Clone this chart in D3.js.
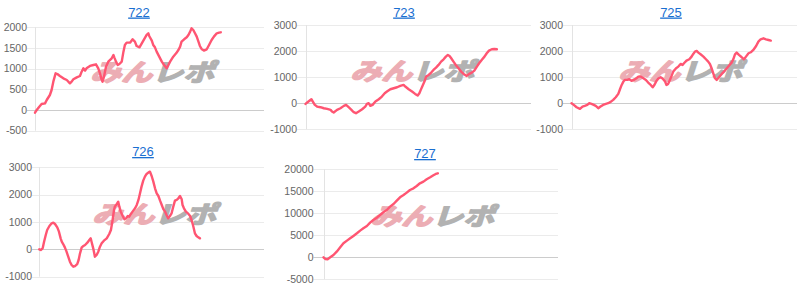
<!DOCTYPE html>
<html>
<head>
<meta charset="utf-8">
<script src="https://cdn.jsdelivr.net/npm/d3@7"></script>
<style>
	body { margin: 0; background: #fff; }
	svg { display: block; font-family: Arial, "Liberation Sans", sans-serif; }
</style>
</head>
<body>
<div id="visContainer"></div>
<script>
'use strict';

// game count (x) and coin difference (y)
var games722 = [0, 60, 150, 230, 350, 410, 520, 580, 640, 720, 780, 870, 990, 1110, 1220, 1280, 1340, 1460, 1570, 1630,
	1690, 1750, 1800, 1920, 2040, 2130, 2210, 2270, 2330, 2360, 2410, 2480, 2560, 2680, 2740, 2770, 2830, 2890, 2950, 3030,
	3090, 3140, 3200, 3320, 3410, 3490, 3550, 3650, 3730, 3810, 3900, 3960, 3990, 4080, 4130, 4190, 4250, 4340, 4430, 4510,
	4600, 4660, 4720, 4830, 4930, 5010, 5070, 5120, 5210, 5300, 5360, 5420, 5470, 5530, 5590, 5650, 5710, 5760, 5820, 5900,
	6000, 6080, 6170, 6250, 6350, 6430, 6490];
var diff722 = [-65, 0, 81, 145, 161, 242, 363, 484, 686, 887, 871, 823, 766, 726, 645, 686, 742, 790, 823, 927,
	1008, 952, 1008, 1065, 1089, 1105, 1008, 887, 726, 686, 806, 1048, 1169, 1250, 1331, 1274, 1169, 1089, 1113, 1169,
	1411, 1573, 1629, 1629, 1710, 1653, 1548, 1516, 1613, 1710, 1815, 1855, 1790, 1677, 1573, 1516, 1411, 1290, 1169, 1089,
	1008, 1089, 1169, 1290, 1371, 1452, 1532, 1653, 1710, 1758, 1815, 1895, 1976, 1935, 1855, 1774, 1653, 1548, 1476, 1436,
	1468, 1573, 1694, 1774, 1855, 1871, 1879];

var games723 = [0, 60, 150, 210, 260, 330, 410, 530, 650, 770, 890, 940, 1000, 1120, 1240, 1360, 1440, 1530, 1630, 1710,
	1790, 1890, 2010, 2120, 2180, 2240, 2300, 2380, 2480, 2600, 2710, 2810, 2890, 3010, 3130, 3250, 3360, 3480, 3540, 3660,
	3780, 3890, 3980, 4040, 4090, 4150, 4220, 4280, 4370, 4460, 4540, 4630, 4720, 4810, 4900, 4980, 5050, 5110, 5170, 5250,
	5330, 5430, 5520, 5610, 5720, 5810, 5900, 5990, 6080, 6160, 6250, 6350, 6430, 6510, 6610, 6700, 6790];
var diff723 = [-26, 26, 102, 153, 64, -64, -128, -153, -192, -217, -255, -319, -358, -255, -192, -102, -64, -153, -255, -345,
	-383, -319, -230, -128, -26, 0, -102, -64, 64, 153, 255, 383, 447, 536, 575, 613, 664, 702, 639, 536,
	447, 358, 294, 383, 511, 664, 830, 1022, 1085, 1175, 1277, 1366, 1469, 1596, 1686, 1788, 1852, 1813, 1724, 1596,
	1469, 1341, 1213, 1124, 1047, 1124, 1175, 1251, 1405, 1532, 1660, 1788, 1916, 2018, 2069, 2082, 2069];

var games725 = [0, 80, 180, 300, 390, 470, 560, 630, 710, 790, 860, 950, 1030, 1120, 1220, 1300, 1390, 1480, 1570, 1660,
	1720, 1780, 1840, 1890, 1980, 2050, 2130, 2210, 2290, 2370, 2450, 2550, 2640, 2720, 2810, 2880, 2940, 3000, 3080, 3160,
	3230, 3320, 3370, 3430, 3490, 3550, 3610, 3710, 3790, 3870, 3940, 3990, 4080, 4180, 4260, 4320, 4380, 4440, 4500, 4580,
	4680, 4770, 4850, 4910, 4970, 5030, 5090, 5150, 5230, 5330, 5410, 5510, 5600, 5680, 5740, 5800, 5860, 5940, 6040, 6120,
	6190, 6280, 6360, 6450, 6550, 6630, 6710, 6810, 6900, 6990, 7070];
var diff725 = [0, -64, -153, -217, -128, -102, -64, 0, -26, -64, -102, -192, -128, -64, -26, 0, 51, 128, 230, 358,
	536, 702, 830, 894, 894, 919, 856, 894, 945, 1022, 1022, 958, 894, 792, 702, 613, 702, 830, 945, 996,
	945, 830, 702, 741, 894, 1047, 1213, 1341, 1405, 1507, 1469, 1532, 1635, 1686, 1788, 1890, 1979, 2005, 1941, 1877,
	1788, 1686, 1596, 1507, 1341, 1149, 958, 894, 996, 1124, 1213, 1341, 1456, 1558, 1686, 1877, 1941, 1852, 1762, 1686,
	1788, 1916, 1954, 2043, 2196, 2362, 2452, 2490, 2452, 2426, 2401];

var games726 = [0, 50, 120, 170, 230, 280, 360, 440, 500, 560, 640, 700, 760, 800, 850, 910, 970, 1030, 1090, 1150,
	1210, 1270, 1350, 1400, 1450, 1510, 1570, 1630, 1710, 1780, 1830, 1860, 1920, 1980, 2040, 2100, 2160, 2220, 2300, 2400,
	2490, 2550, 2610, 2660, 2690, 2750, 2810, 2850, 2900, 2970, 3030, 3090, 3150, 3200, 3260, 3320, 3410, 3470, 3530, 3580,
	3640, 3700, 3760, 3820, 3880, 3940, 4000, 4060, 4120, 4180, 4240, 4300, 4360, 4420, 4480, 4530, 4590, 4650, 4710, 4770,
	4830, 4890, 4950, 5010, 5070, 5100, 5150, 5220, 5310, 5370, 5420, 5480, 5540, 5600, 5660, 5720];
var diff726 = [0, -24, 37, 280, 524, 707, 854, 951, 976, 927, 805, 646, 402, 280, 195, 73, -85, -268, -451, -573,
	-634, -610, -537, -390, -146, 73, 122, 159, 244, 341, 402, 280, 37, -268, -207, -85, 98, 220, 317, 402,
	561, 707, 1073, 1439, 1561, 1646, 1744, 1561, 1378, 1220, 1098, 1134, 1220, 1195, 1293, 1378, 1500, 1622, 1805, 2024,
	2293, 2512, 2659, 2756, 2805, 2841, 2683, 2476, 2232, 2049, 1951, 1780, 1622, 1463, 1378, 1256, 1134, 1220, 1317, 1561,
	1780, 1805, 1866, 1951, 1829, 1622, 1500, 1378, 1293, 1220, 1073, 854, 585, 488, 439, 402];

var games727 = [0, 60, 140, 230, 340, 450, 570, 680, 800, 910, 1020, 1140, 1250, 1360, 1480, 1590, 1700, 1820, 1930, 2040,
	2160, 2270, 2390, 2500, 2610, 2730, 2840, 2950, 3070, 3180, 3290, 3410, 3520, 3640, 3750, 3830, 3900];
var diff727 = [0, -379, -455, 0, 530, 1288, 2273, 3182, 3788, 4318, 4849, 5455, 6061, 6591, 7121, 7879, 8485, 9015, 9622, 10228,
	10758, 11515, 12122, 12879, 13637, 14167, 14697, 15304, 15682, 16213, 16819, 17198, 17728, 18182, 18637, 18940, 19092];

// y axis tick labels
var ticks722 = [-500, 0, 500, 1000, 1500, 2000];
var ticks723 = [-1000, 0, 1000, 2000, 3000];
var ticks725 = [-1000, 0, 1000, 2000, 3000];
var ticks726 = [-1000, 0, 1000, 2000, 3000];
var ticks727 = [-5000, 0, 5000, 10000, 15000, 20000];

var GAME_MAX = 8000;

// layout of each small chart
var PANELS = [
	{ title: '722', games: games722, diff: diff722, ticks: ticks722, left: 27, axisX: 35, right: 264, top: 27.3, bottom: 130.7, titleX: 139, titleY: 16.5, markX: 155, markY: 72 },
	{ title: '723', games: games723, diff: diff723, ticks: ticks723, left: 297, axisX: 305.5, right: 531, top: 25, bottom: 129.3, titleX: 404, titleY: 16.5, markX: 415, markY: 71 },
	{ title: '725', games: games725, diff: diff725, ticks: ticks725, left: 563, axisX: 571.5, right: 797, top: 25, bottom: 129.3, titleX: 671, titleY: 16.5, markX: 683, markY: 71 },
	{ title: '726', games: games726, diff: diff726, ticks: ticks726, left: 32, axisX: 39.3, right: 264, top: 167.3, bottom: 276.7, titleX: 143, titleY: 156, markX: 157, markY: 214 },
	{ title: '727', games: games727, diff: diff727, ticks: ticks727, left: 313.5, axisX: 323.5, right: 558, top: 169.3, bottom: 279.3, titleX: 425, titleY: 158, markX: 435, markY: 216 }
];

var svg = d3.select('#visContainer')
	.append('svg')
	.attr('width', 800)
	.attr('height', 290);

function drawPanel(p) {
	var g = svg.append('g').attr('class', 'panel');

	var xScale = d3.scaleLinear()
		.domain([0, GAME_MAX])
		.range([p.axisX, p.right]);

	var yScale = d3.scaleLinear()
		.domain([p.ticks[0], p.ticks[p.ticks.length - 1]])
		.range([p.bottom, p.top]);

	// title (link style)
	g.append('text')
		.attr('x', p.titleX)
		.attr('y', p.titleY)
		.attr('text-anchor', 'middle')
		.style('font-size', '13px')
		.style('fill', '#1a6fd1')
		.style('text-decoration', 'underline')
		.text(p.title);

	// horizontal grid lines
	g.selectAll('.grid')
		.data(p.ticks)
		.enter().append('line')
		.attr('class', 'grid')
		.attr('x1', p.left)
		.attr('x2', p.right)
		.attr('y1', function (d) { return Math.round(yScale(d)) + 0.5; })
		.attr('y2', function (d) { return Math.round(yScale(d)) + 0.5; })
		.attr('stroke', function (d) { return d === 0 ? '#cccccc' : '#ebebeb'; })
		.attr('stroke-width', 1);

	// vertical axis line
	g.append('line')
		.attr('x1', Math.round(p.axisX) + 0.5)
		.attr('x2', Math.round(p.axisX) + 0.5)
		.attr('y1', p.top)
		.attr('y2', p.bottom)
		.attr('stroke', '#e3e3e3');

	// tick labels
	g.selectAll('.tick-label')
		.data(p.ticks)
		.enter().append('text')
		.attr('class', 'tick-label')
		.attr('x', p.left)
		.attr('y', function (d) { return yScale(d); })
		.attr('dy', '0.35em')
		.attr('text-anchor', 'end')
		.style('font-size', '10.5px')
		.style('fill', '#666')
		.text(function (d) { return d; });

	// watermark
	var mark = g.append('text')
		.attr('transform', 'translate(' + p.markX + ',' + p.markY + ') skewX(-18)')
		.attr('text-anchor', 'middle')
		.attr('dy', '0.36em')
		.attr('textLength', 124)
		.attr('lengthAdjust', 'spacingAndGlyphs')
		.style('font-family', '"Noto Sans CJK JP", sans-serif')
		.style('font-weight', 700)
		.style('font-size', '24px')
		.style('stroke-width', 1.6)
		.style('stroke-linejoin', 'round');
	mark.append('tspan').style('fill', '#ecadb4').style('stroke', '#ecadb4').text('みん');
	mark.append('tspan').style('fill', '#b2b2b2').style('stroke', '#b2b2b2').text('レポ');

	// the data line
	var points = p.games.map(function (gm, i) { return [gm, p.diff[i]]; });
	var line = d3.line()
		.x(function (d) { return xScale(d[0]); })
		.y(function (d) { return yScale(d[1]); });

	g.append('path')
		.attr('d', line(points))
		.attr('fill', 'none')
		.attr('stroke', '#ff5572')
		.attr('stroke-width', 2.4)
		.attr('stroke-linejoin', 'round')
		.attr('stroke-linecap', 'round');
}

PANELS.forEach(drawPanel);
</script>
</body>
</html>
